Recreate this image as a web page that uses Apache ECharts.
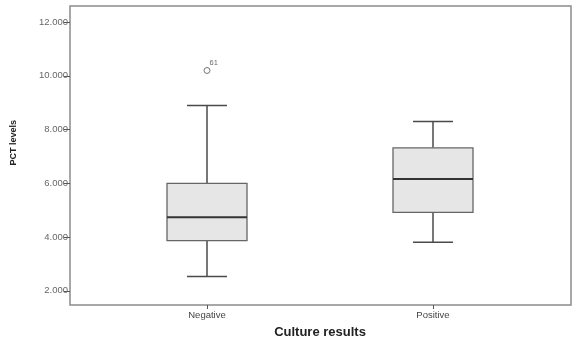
<!DOCTYPE html>
<html>
<head>
<meta charset="utf-8">
<script src="https://cdn.jsdelivr.net/npm/echarts@6/dist/echarts.min.js"></script>
<style>
  html, body { margin: 0; padding: 0; background: #fff; }
  #chart { width: 576px; height: 339px; }
</style>
</head>
<body>
<div id="chart"></div>
<script>
// Culture result groups
const categories = ['Negative', 'Positive'];
// Five-number summaries per group: [min whisker, Q1, median, Q3, max whisker]
const boxStats = [
  [2530, 3870, 4740, 6000, 8900],
  [3810, 4920, 6160, 7320, 8300]
];
// Outlying cases: [group index, value, case id]
const outliers = [
  [0, 10200, '61']
];
// Y-axis tick values
const yTicks = [2000, 4000, 6000, 8000, 10000, 12000];
const yMin = 1470;
const yMax = 12600;

const FONT = 'Liberation Sans, Arial, sans-serif';

function fmt(v) {
  return String(v).replace(/\B(?=(\d{3})+(?!\d))/g, '.');
}

const boxData = boxStats.map((s, i) => [i].concat(s));
const outlierData = outliers.map(o => ({ value: [o[0], o[1]], caseId: o[2] }));

const chart = echarts.init(document.getElementById('chart'), null, { renderer: 'canvas' });

chart.setOption({
  animation: false,
  backgroundColor: '#ffffff',
  grid: [
    { left: 70, right: 5, top: 6, bottom: 34, outerBoundsMode: 'none', containLabel: false,
      show: true, borderColor: '#8c8c8c', borderWidth: 1.5, backgroundColor: 'transparent' },
    { left: 94, right: 30, top: 6, bottom: 34, outerBoundsMode: 'none', containLabel: false }
  ],
  xAxis: [
    { gridIndex: 0, type: 'value', show: false, min: 0, max: 1 },
    {
      gridIndex: 1, type: 'category', data: categories, boundaryGap: true,
      axisLine: { show: false },
      axisTick: { show: true, alignWithLabel: true, length: 4, lineStyle: { color: '#555', width: 1 } },
      axisLabel: { fontFamily: FONT, fontSize: 9.5, color: '#444', margin: 5 },
      name: 'Culture results', nameLocation: 'middle', nameGap: 21,
      nameTextStyle: { fontFamily: FONT, fontSize: 13, fontWeight: 'bold', color: '#222' }
    }
  ],
  yAxis: [
    {
      gridIndex: 0, type: 'value', min: yMin, max: yMax,
      axisLine: { show: false },
      splitLine: { show: false },
      axisTick: { show: true, length: 6, customValues: yTicks, lineStyle: { color: '#555', width: 1 } },
      axisLabel: { fontFamily: FONT, fontSize: 9.5, color: '#666', margin: 2, customValues: yTicks, formatter: fmt }
    },
    { gridIndex: 1, type: 'value', min: yMin, max: yMax, show: false, splitLine: { show: false } }
  ],
  graphic: [
    {
      type: 'text', left: 9, top: 120, rotation: Math.PI / 2,
      style: { text: 'PCT levels', font: 'bold 9px ' + FONT, fill: '#222' },
      originX: 0, originY: 0
    }
  ],
  series: [
    {
      type: 'custom',
      xAxisIndex: 1, yAxisIndex: 1,
      data: boxData,
      encode: { x: 0, y: [1, 2, 3, 4, 5] },
      renderItem: function (params, api) {
        const idx = api.value(0);
        const band = api.size([1, 0])[0];
        const boxW = band * 0.354;
        const capW = band * 0.177;
        const pLow = api.coord([idx, api.value(1)]);
        const pQ1 = api.coord([idx, api.value(2)]);
        const pMed = api.coord([idx, api.value(3)]);
        const pQ3 = api.coord([idx, api.value(4)]);
        const pHigh = api.coord([idx, api.value(5)]);
        const cx = pMed[0];
        const lineStyle = { stroke: '#4a4a4a', lineWidth: 1.5 };
        return {
          type: 'group',
          children: [
            { type: 'line', shape: { x1: cx, y1: pQ3[1], x2: cx, y2: pHigh[1] }, style: lineStyle },
            { type: 'line', shape: { x1: cx, y1: pQ1[1], x2: cx, y2: pLow[1] }, style: lineStyle },
            { type: 'line', shape: { x1: cx - capW / 2, y1: pHigh[1], x2: cx + capW / 2, y2: pHigh[1] }, style: lineStyle },
            { type: 'line', shape: { x1: cx - capW / 2, y1: pLow[1], x2: cx + capW / 2, y2: pLow[1] }, style: lineStyle },
            { type: 'rect', shape: { x: cx - boxW / 2, y: pQ3[1], width: boxW, height: pQ1[1] - pQ3[1] },
              style: { fill: '#e6e6e6', stroke: '#666', lineWidth: 1.3 } },
            { type: 'line', shape: { x1: cx - boxW / 2, y1: pMed[1], x2: cx + boxW / 2, y2: pMed[1] },
              style: { stroke: '#333', lineWidth: 2 } }
          ]
        };
      }
    },
    {
      type: 'scatter',
      xAxisIndex: 1, yAxisIndex: 1,
      data: outlierData,
      symbol: 'circle', symbolSize: 6,
      itemStyle: { color: '#fff', borderColor: '#555', borderWidth: 1 },
      label: {
        show: true, position: [6, -8],
        formatter: p => p.data.caseId,
        fontFamily: FONT, fontSize: 7.5, color: '#444'
      }
    }
  ]
});
</script>
</body>
</html>
